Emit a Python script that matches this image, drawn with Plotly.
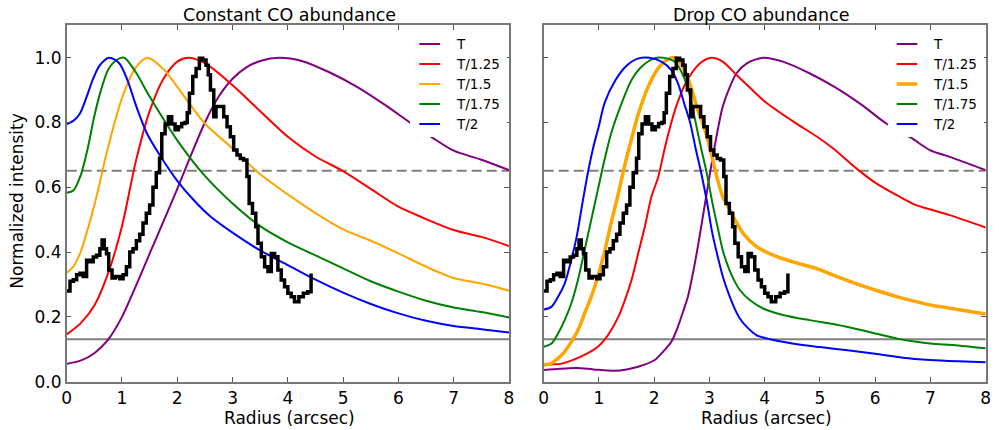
import plotly.graph_objects as go

# ---------------- data ----------------
# observed profile (identical in both panels), step-drawn
obs_r = [0.00, 0.06, 0.12, 0.18, 0.24, 0.30, 0.36, 0.42, 0.48, 0.54, 0.60, 0.64, 0.68, 0.72, 0.76,
         0.82, 0.88, 0.96, 1.02, 1.08, 1.14, 1.20, 1.26, 1.32, 1.38, 1.44, 1.50, 1.56, 1.62, 1.68,
         1.72, 1.78, 1.84, 1.90, 1.96, 2.02, 2.08, 2.14, 2.18, 2.22, 2.28, 2.34, 2.40, 2.46, 2.52,
         2.56, 2.60, 2.66, 2.70, 2.78, 2.84, 2.90, 2.96, 3.02, 3.08, 3.14, 3.20, 3.26, 3.30, 3.36,
         3.42, 3.46, 3.52, 3.58, 3.64, 3.70, 3.76, 3.82, 3.88, 3.94, 4.00, 4.06, 4.12, 4.20, 4.28,
         4.36, 4.42]
obs_v = [0.28, 0.31, 0.315, 0.33, 0.335, 0.325, 0.375, 0.37, 0.385, 0.39, 0.41, 0.437, 0.41, 0.395, 0.345,
         0.32, 0.325, 0.318, 0.33, 0.355, 0.40, 0.41, 0.435, 0.455, 0.49, 0.52, 0.545, 0.60, 0.645, 0.69,
         0.765, 0.795, 0.818, 0.795, 0.778, 0.787, 0.797, 0.80, 0.83, 0.89, 0.942, 0.967, 0.998, 0.993, 0.977,
         0.947, 0.90, 0.818, 0.849, 0.849, 0.818, 0.787, 0.756, 0.715, 0.70, 0.689, 0.684, 0.633, 0.55, 0.52,
         0.478, 0.427, 0.386, 0.355, 0.34, 0.396, 0.386, 0.345, 0.314, 0.293, 0.273, 0.262, 0.247, 0.262, 0.273,
         0.278, 0.334]

# Constant CO abundance models
const_T_r = [0, 0.25, 0.5, 0.75, 1.0, 1.25, 1.5, 1.75, 2.0, 2.25, 2.5, 2.75, 3.0, 3.25, 3.5, 3.85,
             4.25, 4.75, 5.25, 5.75, 6.25, 6.6, 7.0, 7.5, 8.0]
const_T_v = [0.055, 0.065, 0.088, 0.13, 0.2, 0.295, 0.395, 0.495, 0.595, 0.70, 0.80, 0.88, 0.935, 0.97, 0.99, 1.0,
             0.99, 0.955, 0.91, 0.855, 0.795, 0.755, 0.713, 0.685, 0.653]
const_T125_r = [0, 0.25, 0.5, 0.75, 1.0, 1.25, 1.5, 1.75, 2.0, 2.2, 2.5, 3.0, 3.5, 4.0, 4.5, 5.0,
                5.5, 6.0, 6.5, 7.0, 7.5, 8.0]
const_T125_v = [0.146, 0.18, 0.235, 0.335, 0.48, 0.68, 0.835, 0.935, 0.988, 1.0, 0.983, 0.915, 0.835, 0.756, 0.695, 0.65,
                0.595, 0.54, 0.502, 0.468, 0.447, 0.419]
const_T15_r = [0, 0.12, 0.25, 0.5, 0.75, 1.0, 1.25, 1.46, 1.75, 2.0, 2.5, 3.0, 3.5, 4.0, 4.5, 5.0,
               5.5, 6.0, 6.5, 7.0, 7.5, 8.0]
const_T15_v = [0.336, 0.355, 0.40, 0.545, 0.725, 0.875, 0.97, 1.0, 0.965, 0.91, 0.797, 0.72, 0.64, 0.578, 0.52, 0.47,
               0.435, 0.396, 0.355, 0.32, 0.303, 0.281]
const_T175_r = [0, 0.12, 0.25, 0.38, 0.5, 0.62, 0.75, 0.9, 1.04, 1.25, 1.5, 2.0, 2.5, 3.0, 3.5, 4.0,
                4.5, 5.0, 5.5, 6.0, 6.5, 7.0, 7.5, 8.0]
const_T175_v = [0.583, 0.59, 0.635, 0.72, 0.82, 0.9, 0.963, 0.993, 1.0, 0.955, 0.88, 0.745, 0.635, 0.55, 0.48, 0.43,
                0.39, 0.35, 0.31, 0.278, 0.25, 0.229, 0.215, 0.198]
const_T2_r = [0, 0.12, 0.24, 0.36, 0.48, 0.6, 0.77, 0.95, 1.1, 1.26, 1.45, 1.7, 2.0, 2.3, 2.6, 3.0,
              3.5, 4.0, 4.5, 5.0, 5.5, 6.0, 6.5, 7.0, 7.5, 8.0]
const_T2_v = [0.795, 0.805, 0.828, 0.879, 0.936, 0.977, 1.0, 0.983, 0.93, 0.849, 0.767, 0.695, 0.62, 0.56, 0.51, 0.46,
              0.405, 0.36, 0.315, 0.275, 0.24, 0.211, 0.188, 0.172, 0.162, 0.152]

# Drop CO abundance models
drop_T_r = [0, 0.3, 0.6, 0.9, 1.29, 1.5, 1.71, 2.01, 2.19, 2.31, 2.43, 2.52, 2.61, 2.7, 2.79, 2.88,
            2.97, 3.06, 3.15, 3.24, 3.37, 3.49, 3.67, 3.97, 4.33, 4.81, 5.24, 5.75, 6.2, 6.64, 6.99, 7.35, 8.0]
drop_T_v = [0.036, 0.04, 0.042, 0.038, 0.034, 0.038, 0.046, 0.067, 0.098, 0.123, 0.17, 0.215, 0.262, 0.334, 0.417, 0.509,
            0.602, 0.694, 0.777, 0.849, 0.91, 0.952, 0.982, 1.0, 0.988, 0.952, 0.912, 0.855, 0.797, 0.754, 0.715, 0.694, 0.653]
drop_T125_r = [0, 0.3, 0.5, 0.8, 0.98, 1.1, 1.22, 1.35, 1.47, 1.59, 1.71, 1.83, 1.95, 2.07, 2.19, 2.31,
               2.43, 2.6, 2.83, 3.04, 3.24, 3.5, 3.75, 4.0, 4.5, 5.0, 5.24, 5.72, 6.02, 6.44, 6.74, 6.99, 7.35, 8.0]
drop_T125_v = [0.052, 0.055, 0.065, 0.088, 0.108, 0.129, 0.159, 0.2, 0.252, 0.314, 0.396, 0.478, 0.571, 0.63, 0.72, 0.8,
               0.865, 0.931, 0.983, 1.0, 0.988, 0.945, 0.905, 0.865, 0.805, 0.75, 0.72, 0.65, 0.612, 0.571, 0.545, 0.532, 0.514, 0.476]
drop_T15_r = [0, 0.14, 0.26, 0.38, 0.5, 0.62, 0.74, 0.86, 0.98, 1.1, 1.22, 1.35, 1.47, 1.59, 1.71, 1.89,
              2.07, 2.25, 2.38, 2.52, 2.61, 2.7, 2.79, 2.88, 2.97, 3.06, 3.15, 3.24, 3.34, 3.43, 3.61, 3.85,
              4.15, 4.51, 4.93, 5.24, 5.6, 6.0, 6.4, 6.74, 7.0, 7.35, 8.0]
drop_T15_v = [0.051, 0.057, 0.072, 0.093, 0.123, 0.159, 0.211, 0.262, 0.324, 0.40, 0.49, 0.58, 0.67, 0.75, 0.825, 0.91,
              0.967, 0.995, 1.0, 0.97, 0.936, 0.89, 0.838, 0.797, 0.746, 0.684, 0.622, 0.571, 0.54, 0.509, 0.458, 0.417,
              0.391, 0.37, 0.35, 0.329, 0.306, 0.283, 0.262, 0.247, 0.237, 0.227, 0.209]
drop_T175_r = [0, 0.14, 0.26, 0.38, 0.5, 0.62, 0.74, 0.86, 0.98, 1.1, 1.22, 1.41, 1.59, 1.77, 2.0, 2.16,
               2.37, 2.55, 2.65, 2.75, 2.85, 2.95, 3.05, 3.15, 3.25, 3.35, 3.45, 3.55, 3.73, 3.97, 4.33, 4.81,
               5.24, 5.6, 6.0, 6.4, 6.75, 7.0, 7.5, 8.0]
drop_T175_v = [0.108, 0.118, 0.149, 0.19, 0.242, 0.314, 0.406, 0.499, 0.592, 0.684, 0.766, 0.859, 0.931, 0.972, 0.998, 1.0,
               0.988, 0.935, 0.88, 0.80, 0.72, 0.645, 0.555, 0.475, 0.40, 0.35, 0.312, 0.283, 0.252, 0.226, 0.206, 0.19,
               0.178, 0.165, 0.149, 0.133, 0.123, 0.118, 0.112, 0.103]
drop_T2_r = [0, 0.14, 0.26, 0.38, 0.5, 0.6, 0.7, 0.8, 0.9, 1.0, 1.1, 1.3, 1.5, 1.7, 1.92, 2.13,
             2.31, 2.43, 2.55, 2.65, 2.75, 2.85, 2.95, 3.05, 3.15, 3.25, 3.35, 3.45, 3.55, 3.67, 3.85, 4.1,
             4.5, 5.0, 5.5, 6.0, 6.5, 7.0, 7.5, 8.0]
drop_T2_v = [0.223, 0.231, 0.262, 0.303, 0.376, 0.45, 0.55, 0.645, 0.725, 0.79, 0.859, 0.931, 0.975, 0.997, 1.0, 0.988,
             0.962, 0.921, 0.855, 0.80, 0.72, 0.645, 0.56, 0.46, 0.386, 0.32, 0.27, 0.228, 0.195, 0.17, 0.144, 0.131,
             0.118, 0.107, 0.097, 0.086, 0.074, 0.067, 0.063, 0.06]

# reference levels
level_dashed = 0.651
level_solid = 0.131

labels = ["T", "T/1.25", "T/1.5", "T/1.75", "T/2"]
colors = ["#800080", "#ff0000", "#ffa500", "#008000", "#0000ff"]

const_models = [(const_T_r, const_T_v), (const_T125_r, const_T125_v), (const_T15_r, const_T15_v),
                (const_T175_r, const_T175_v), (const_T2_r, const_T2_v)]
drop_models = [(drop_T_r, drop_T_v), (drop_T125_r, drop_T125_v), (drop_T15_r, drop_T15_v),
               (drop_T175_r, drop_T175_v), (drop_T2_r, drop_T2_v)]
drop_widths = [2, 2, 3.5, 2, 2]

W, H = 999, 430
FONT = "DejaVu Sans"

def px(x):
    return x / W

def py(y):
    return 1 - y / H

fig = go.Figure()

for i, (r, v) in enumerate(const_models):
    fig.add_trace(go.Scatter(x=r, y=v, mode="lines", name=labels[i], showlegend=False,
                             line=dict(color=colors[i], width=2, shape="spline", smoothing=0.8),
                             xaxis="x", yaxis="y"))
fig.add_trace(go.Scatter(x=obs_r, y=obs_v, mode="lines", showlegend=False,
                         line=dict(color="black", width=3.5, shape="hv"), xaxis="x", yaxis="y"))

for i, (r, v) in enumerate(drop_models):
    fig.add_trace(go.Scatter(x=r, y=v, mode="lines", name=labels[i], showlegend=False,
                             line=dict(color=colors[i], width=drop_widths[i], shape="spline", smoothing=0.8),
                             xaxis="x2", yaxis="y2"))
fig.add_trace(go.Scatter(x=obs_r, y=obs_v, mode="lines", showlegend=False,
                         line=dict(color="black", width=3.5, shape="hv"), xaxis="x2", yaxis="y2"))

axis_common = dict(range=[0, 8], tickvals=[0, 1, 2, 3, 4, 5, 6, 7, 8], ticks="inside", ticklen=5,
                   tickcolor="#555555", showline=True, linecolor="#777777", linewidth=1.5, mirror="allticks",
                   showgrid=False, zeroline=False, tickfont=dict(family=FONT, size=17, color="black"),
                   automargin=False)
yaxis_common = dict(range=[0, 1.1], tickvals=[0, 0.2, 0.4, 0.6, 0.8, 1.0], ticks="inside", ticklen=5,
                    tickcolor="#555555", showline=True, linecolor="#777777", linewidth=1.5, mirror="allticks",
                    showgrid=False, zeroline=False, tickfont=dict(family=FONT, size=17, color="black"),
                    tickformat=".1f", automargin=False)

fig.update_layout(
    width=W, height=H, margin=dict(l=0, r=0, t=0, b=0),
    paper_bgcolor="white", plot_bgcolor="white", showlegend=False,
    xaxis=dict(domain=[px(66.7), px(509)], anchor="y", **axis_common),
    yaxis=dict(domain=[py(381.7), py(25.3)], anchor="x", **yaxis_common),
    xaxis2=dict(domain=[px(543.7), px(985.7)], anchor="y2", **axis_common),
    yaxis2=dict(domain=[py(381.7), py(25.3)], anchor="x2", showticklabels=False, **yaxis_common),
)

shapes = []
for xa, ya in (("x", "y"), ("x2", "y2")):
    shapes.append(dict(type="line", xref=xa, yref=ya, x0=0, x1=8, y0=level_dashed, y1=level_dashed,
                       line=dict(color="#808080", width=2, dash="10px,5px"), layer="below"))
    shapes.append(dict(type="line", xref=xa, yref=ya, x0=0, x1=8, y0=level_solid, y1=level_solid,
                       line=dict(color="#808080", width=2), layer="below"))

annotations = []
# legends drawn by hand (white box covering the curves as in the reference)
for (box_l, box_r, line_l, line_r, text_x, widths) in ((410, 507, 419.3, 440, 454.3, [2] * 5),
                                                       (888, 984, 896.7, 917.3, 931, drop_widths)):
    shapes.append(dict(type="rect", xref="paper", yref="paper", x0=px(box_l), x1=px(box_r),
                       y0=py(137), y1=py(31), fillcolor="white", line=dict(width=0), layer="above"))
    for k in range(5):
        yk = 44 + 20 * k
        shapes.append(dict(type="line", xref="paper", yref="paper", x0=px(line_l), x1=px(line_r),
                           y0=py(yk), y1=py(yk), line=dict(color=colors[k], width=widths[k]), layer="above"))
        annotations.append(dict(text=labels[k], xref="paper", yref="paper", x=px(text_x), y=py(yk),
                                xanchor="left", yanchor="middle", showarrow=False,
                                font=dict(family=FONT, size=13.5, color="black")))

annotations += [
    dict(text="Constant CO abundance", xref="paper", yref="paper", x=px(289.5), y=py(15),
         xanchor="center", yanchor="middle", showarrow=False, font=dict(family=FONT, size=17.5, color="black")),
    dict(text="Drop CO abundance", xref="paper", yref="paper", x=px(761.5), y=py(15),
         xanchor="center", yanchor="middle", showarrow=False, font=dict(family=FONT, size=17.5, color="black")),
    dict(text="Radius (arcsec)", xref="paper", yref="paper", x=px(289.3), y=py(418),
         xanchor="center", yanchor="middle", showarrow=False, font=dict(family=FONT, size=17, color="black")),
    dict(text="Radius (arcsec)", xref="paper", yref="paper", x=px(766.2), y=py(418),
         xanchor="center", yanchor="middle", showarrow=False, font=dict(family=FONT, size=17, color="black")),
    dict(text="Normalized intensity", xref="paper", yref="paper", x=px(16.7), y=py(201), textangle=-90,
         xanchor="center", yanchor="middle", showarrow=False, font=dict(family=FONT, size=17, color="black")),
]

fig.update_layout(shapes=shapes, annotations=annotations)
fig.write_html("out.html")
